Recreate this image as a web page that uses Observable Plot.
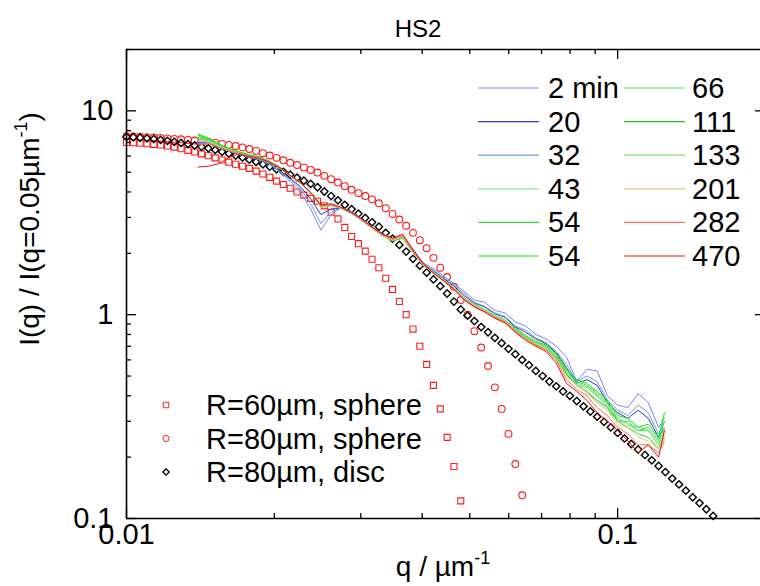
<!DOCTYPE html>
<html>
<head>
<meta charset="utf-8">
<script src="https://cdn.jsdelivr.net/npm/d3@7"></script>
<script src="https://cdn.jsdelivr.net/npm/@observablehq/plot@0.6"></script>
<style>
html, body { margin: 0; padding: 0; background: #fff; overflow: hidden; }
</style>
</head>
<body>
<div id="chart"></div>
<script>
// ---------- data ----------
const modelQ = [
  0.01, 0.010325, 0.010661, 0.011007, 0.011365, 0.011735, 0.012115, 0.012509, 0.012915, 0.013335,
  0.013768, 0.014216, 0.014678, 0.015155, 0.015647, 0.016156, 0.016681, 0.017223, 0.017783, 0.018361,
  0.018957, 0.019573, 0.02021, 0.020866, 0.021544, 0.022244, 0.022967, 0.023714, 0.024484, 0.02528,
  0.026102, 0.02695, 0.027826, 0.02873, 0.029663, 0.030628, 0.031623, 0.03265, 0.033711, 0.034807,
  0.035938, 0.037106, 0.038312, 0.039557, 0.040842, 0.04217, 0.04354, 0.044955, 0.046416, 0.047924,
  0.049482, 0.05109, 0.05275, 0.054464, 0.056234, 0.058062, 0.059948, 0.061897, 0.063908, 0.065984,
  0.068129, 0.070342, 0.072628, 0.074989, 0.077426, 0.079942, 0.08254, 0.085222, 0.087992, 0.090851,
  0.093804, 0.096852, 0.1, 0.10325, 0.10661, 0.11007, 0.11365, 0.11735, 0.12115, 0.12509,
  0.12915, 0.13335, 0.13768, 0.14216, 0.14678, 0.15155, 0.15647
];
const sphere60 = [
  7.0, 6.97, 6.94, 6.9, 6.85, 6.8, 6.72, 6.64, 6.52, 6.4,
  6.28, 6.15, 6.02, 5.88, 5.74, 5.6, 5.47, 5.35, 5.22, 5.06,
  4.9, 4.72, 4.52, 4.35, 4.17, 4.0, 3.86, 3.72, 3.6, 3.42,
  3.18, 2.95, 2.68, 2.42, 2.23, 2.05, 1.87, 1.7, 1.51, 1.33,
  1.16, 1.0, 0.85, 0.7, 0.57, 0.45, 0.345, 0.25, 0.18, 0.122
];
const sphere80 = [
  7.5, 7.48, 7.46, 7.43, 7.4, 7.37, 7.33, 7.29, 7.25, 7.2,
  7.15, 7.09, 7.03, 6.96, 6.89, 6.81, 6.72, 6.62, 6.5, 6.36,
  6.2, 6.04, 5.88, 5.72, 5.56, 5.42, 5.28, 5.13, 4.98, 4.8,
  4.62, 4.45, 4.27, 4.1, 3.95, 3.82, 3.68, 3.52, 3.33, 3.12,
  2.93, 2.73, 2.52, 2.32, 2.12, 1.9, 1.7, 1.53, 1.37, 1.18,
  1.0, 0.83, 0.69, 0.56, 0.44, 0.345, 0.26, 0.185, 0.13
];
const disc80 = [
  7.45, 7.42, 7.38, 7.33, 7.27, 7.2, 7.13, 7.05, 6.96, 6.87,
  6.77, 6.66, 6.55, 6.43, 6.3, 6.17, 6.04, 5.9, 5.76, 5.62,
  5.47, 5.32, 5.17, 5.02, 4.86, 4.7, 4.54, 4.38, 4.22, 4.02,
  3.82, 3.64, 3.46, 3.29, 3.13, 2.98, 2.84, 2.7, 2.52, 2.36,
  2.2, 2.04, 1.88, 1.74, 1.61, 1.49, 1.38, 1.27, 1.16, 1.06,
  0.99, 0.93, 0.87, 0.82, 0.77, 0.725, 0.68, 0.64, 0.6, 0.565,
  0.53, 0.5, 0.47, 0.445, 0.42, 0.4, 0.377, 0.355, 0.335, 0.316,
  0.298, 0.28, 0.263, 0.247, 0.232, 0.218, 0.205, 0.193, 0.181, 0.169,
  0.157, 0.147, 0.137, 0.127, 0.119, 0.111, 0.103
];
const modelNames = ["R=60µm, sphere", "R=80µm, sphere", "R=80µm, disc"];

const expQ = [
  0.01399, 0.014678, 0.015399, 0.016156, 0.01695, 0.017783, 0.018657, 0.019573, 0.020535, 0.021544,
  0.022603, 0.023714, 0.024879, 0.026102, 0.027384, 0.02873, 0.030142, 0.031623, 0.033177, 0.034807,
  0.036517, 0.038312, 0.040194, 0.04217, 0.044242, 0.046416, 0.048697, 0.05109, 0.0536, 0.056234,
  0.058997, 0.061897, 0.064938, 0.068129, 0.071477, 0.074989, 0.078674, 0.08254, 0.086596, 0.090851,
  0.095315, 0.1, 0.10491, 0.11007, 0.11548, 0.12115, 0.1245
];
const t2min = [6.9, 6.95, 6.6, 6.35, 6.1, 5.9, 5.75, 5.45, 5.0, 4.5,
  4.0, 3.3, 2.6, 3.1, 3.35, 3.2, 2.95, 2.7, 2.5, 2.35,
  2.42, 2.1, 1.8, 1.68, 1.55, 1.42, 1.3, 1.18, 1.15, 1.05,
  1.02, 0.92, 0.88, 0.8, 0.76, 0.7, 0.62, 0.47, 0.54, 0.53,
  0.4, 0.36, 0.35, 0.41, 0.37, 0.28, 0.31];
const t20 = [7.0, 7.0, 6.65, 6.4, 6.15, 5.95, 5.8, 5.5, 5.1, 4.65,
  4.25, 3.7, 3.1, 3.3, 3.33, 3.15, 2.92, 2.68, 2.47, 2.33,
  2.4, 2.05, 1.78, 1.64, 1.5, 1.38, 1.24, 1.14, 1.09, 1.01,
  0.97, 0.87, 0.82, 0.76, 0.72, 0.65, 0.55, 0.46, 0.48, 0.45,
  0.37, 0.33, 0.31, 0.34, 0.31, 0.25, 0.28];
const t32 = [7.05, 7.0, 6.7, 6.4, 6.15, 5.95, 5.8, 5.5, 5.05, 4.6,
  4.15, 3.5, 2.8, 3.2, 3.35, 3.17, 2.93, 2.68, 2.47, 2.33,
  2.41, 2.06, 1.77, 1.65, 1.52, 1.4, 1.27, 1.15, 1.1, 1.02,
  0.98, 0.88, 0.84, 0.77, 0.73, 0.66, 0.57, 0.47, 0.5, 0.47,
  0.38, 0.34, 0.32, 0.36, 0.33, 0.26, 0.3];
const t43 = [7.4, 7.15, 6.8, 6.5, 6.25, 6.05, 5.9, 5.65, 5.25, 4.8,
  4.45, 3.95, 3.35, 3.42, 3.33, 3.14, 2.9, 2.65, 2.44, 2.3,
  2.38, 2.0, 1.74, 1.6, 1.47, 1.34, 1.2, 1.1, 1.04, 0.97,
  0.92, 0.84, 0.78, 0.72, 0.68, 0.62, 0.52, 0.45, 0.44, 0.4,
  0.35, 0.31, 0.29, 0.28, 0.27, 0.23, 0.28];
const t54a = [7.6, 7.3, 6.85, 6.5, 6.25, 6.05, 5.9, 5.62, 5.25, 4.8,
  4.43, 3.96, 3.42, 3.45, 3.32, 3.13, 2.9, 2.66, 2.45, 2.3,
  2.37, 2.02, 1.75, 1.6, 1.47, 1.35, 1.2, 1.11, 1.05, 0.98,
  0.93, 0.85, 0.78, 0.73, 0.7, 0.63, 0.53, 0.47, 0.45, 0.41,
  0.37, 0.3, 0.3, 0.27, 0.28, 0.24, 0.3];
const t54b = [7.7, 7.35, 6.9, 6.55, 6.3, 6.1, 5.95, 5.65, 5.27, 4.82,
  4.45, 3.98, 3.45, 3.47, 3.34, 3.15, 2.92, 2.67, 2.46, 2.31,
  2.38, 2.03, 1.76, 1.62, 1.49, 1.36, 1.21, 1.12, 1.06, 0.99,
  0.94, 0.86, 0.79, 0.74, 0.71, 0.64, 0.54, 0.48, 0.46, 0.42,
  0.38, 0.32, 0.31, 0.28, 0.29, 0.25, 0.33];
const t66 = [7.5, 7.25, 6.8, 6.48, 6.22, 6.02, 5.88, 5.6, 5.22, 4.78,
  4.4, 3.94, 3.4, 3.44, 3.33, 3.14, 2.91, 2.66, 2.45, 2.31,
  2.39, 2.02, 1.75, 1.61, 1.48, 1.35, 1.2, 1.11, 1.05, 0.98,
  0.93, 0.84, 0.78, 0.72, 0.69, 0.62, 0.52, 0.46, 0.44, 0.4,
  0.36, 0.31, 0.29, 0.27, 0.27, 0.23, 0.27];
const t111 = [7.3, 7.1, 6.75, 6.43, 6.2, 6.0, 5.87, 5.6, 5.23, 4.78,
  4.42, 3.94, 3.4, 3.43, 3.32, 3.14, 2.9, 2.66, 2.45, 2.32,
  2.4, 2.02, 1.75, 1.61, 1.48, 1.35, 1.2, 1.1, 1.04, 0.97,
  0.92, 0.83, 0.77, 0.71, 0.68, 0.61, 0.51, 0.45, 0.42, 0.38,
  0.35, 0.3, 0.28, 0.26, 0.25, 0.22, 0.25];
const t133 = [7.35, 7.1, 6.75, 6.45, 6.2, 6.0, 5.87, 5.6, 5.22, 4.77,
  4.41, 3.93, 3.4, 3.43, 3.33, 3.15, 2.91, 2.66, 2.45, 2.32,
  2.4, 2.02, 1.75, 1.61, 1.48, 1.35, 1.2, 1.11, 1.05, 0.98,
  0.93, 0.84, 0.77, 0.72, 0.68, 0.61, 0.5, 0.45, 0.42, 0.37,
  0.34, 0.3, 0.28, 0.26, 0.25, 0.22, 0.26];
const t201 = [7.2, 7.05, 6.72, 6.42, 6.2, 5.99, 5.86, 5.6, 5.23, 4.78,
  4.42, 3.94, 3.4, 3.44, 3.33, 3.15, 2.91, 2.66, 2.45, 2.32,
  2.4, 2.02, 1.75, 1.61, 1.48, 1.35, 1.2, 1.11, 1.05, 0.98,
  0.93, 0.84, 0.77, 0.72, 0.68, 0.61, 0.5, 0.45, 0.41, 0.37,
  0.34, 0.29, 0.28, 0.25, 0.24, 0.22, 0.25];
const t282 = [6.8, 6.9, 6.65, 6.38, 6.18, 5.98, 5.85, 5.6, 5.25, 4.8,
  4.45, 3.96, 3.42, 3.46, 3.34, 3.16, 2.93, 2.68, 2.47, 2.35,
  2.45, 2.05, 1.76, 1.6, 1.47, 1.34, 1.19, 1.1, 1.04, 0.97,
  0.92, 0.83, 0.76, 0.71, 0.67, 0.6, 0.48, 0.43, 0.4, 0.35,
  0.32, 0.28, 0.26, 0.23, 0.23, 0.21, 0.24];
const t470 = [5.3, 5.35, 5.5, 5.9, 6.15, 5.97, 5.85, 5.6, 5.26, 4.82,
  4.46, 3.98, 3.45, 3.5, 3.36, 3.17, 2.94, 2.69, 2.48, 2.38,
  2.48, 2.08, 1.78, 1.6, 1.46, 1.33, 1.18, 1.09, 1.03, 0.96,
  0.91, 0.82, 0.75, 0.7, 0.66, 0.58, 0.46, 0.42, 0.38, 0.33,
  0.3, 0.27, 0.24, 0.21, 0.23, 0.2, 0.27];
const seriesNames = ["2 min", "20", "32", "43", "54", "54", "66", "111", "133", "201", "282", "470"];

const xMajorTicks = [0.01, 0.1];
const xMinorTicks = [0.02, 0.03, 0.04, 0.05, 0.06, 0.07, 0.08, 0.09];
const yMajorTicks = [0.1, 1, 10];
const yMinorTicks = [0.2, 0.3, 0.4, 0.5, 0.6, 0.7, 0.8, 0.9, 2, 3, 4, 5, 6, 7, 8, 9, 20];
const xTickLabels = ["0.01", "0.1"];
const yTickLabels = ["0.1", "1", "10"];

// ---------- styles ----------
const seriesColors = ["#7a84ee", "#3535c6", "#6c9de0", "#84e39c", "#2edb2e", "#00ec00",
                      "#4eee4e", "#22bf22", "#90dc6c", "#dbcb7a", "#ff6b5d", "#ee1010"];
const FONT = "'Liberation Sans', Arial, Helvetica, sans-serif";
const TICK_FS = 29, LEG_FS = 29, LAB_FS = 28;

// ---------- build ----------
const expSeries = [t2min, t20, t32, t43, t54a, t54b, t66, t111, t133, t201, t282, t470];
const expRows = expSeries.flatMap((vals, si) => vals.map((v, j) => ({q: expQ[j], v, si})));
const modelRows = (vals) => vals.map((v, i) => ({q: modelQ[i], v}));

const W = 760, H = 586, mL = 126, mR = 0, mT = 49, mB = 68;
const innerW = W - mL - mR, innerH = H - mT - mB;

const svg = Plot.plot({
  width: W, height: H,
  marginLeft: mL, marginRight: mR, marginTop: mT, marginBottom: mB,
  x: {type: "log", domain: [0.01, 0.2], range: [mL, mL + 639], axis: null},
  y: {type: "log", domain: [0.1, 20], axis: null},
  color: {type: "identity"},
  style: {fontFamily: FONT, background: "white", overflow: "hidden", maxWidth: "none"},
  marks: [
    Plot.dot(modelRows(sphere60), {x: "q", y: "v", symbol: "square", r: 3.4, stroke: "#ff1a1a", fill: "none", strokeWidth: 1.1}),
    Plot.dot(modelRows(sphere80), {x: "q", y: "v", symbol: "circle", r: 3.4, stroke: "#ff1a1a", fill: "none", strokeWidth: 1.1}),
    Plot.dot(modelRows(disc80), {x: "q", y: "v", symbol: "diamond2", r: 3.3, stroke: "black", fill: "none", strokeWidth: 1.4}),
    Plot.line(expRows, {x: "q", y: "v", z: "si", stroke: d => seriesColors[d.si], strokeWidth: 1}),
    // frame (left, top, bottom)
    Plot.ruleX([0.01], {stroke: "black", strokeWidth: 1.6}),
    Plot.ruleY([0.1, 20], {stroke: "black", strokeWidth: 1.6}),
    // inward ticks
    Plot.tickX(xMajorTicks, {x: d => d, insetTop: innerH - 10, stroke: "black", strokeWidth: 1.3}),
    Plot.tickX(xMinorTicks, {x: d => d, insetTop: innerH - 5, stroke: "black", strokeWidth: 1.3}),
    Plot.tickX(xMajorTicks, {x: d => d, insetBottom: innerH - 10, stroke: "black", strokeWidth: 1.3}),
    Plot.tickX(xMinorTicks, {x: d => d, insetBottom: innerH - 5, stroke: "black", strokeWidth: 1.3}),
    Plot.tickY(yMajorTicks, {y: d => d, insetRight: innerW - 10, stroke: "black", strokeWidth: 1.3}),
    Plot.tickY(yMinorTicks, {y: d => d, insetRight: innerW - 5, stroke: "black", strokeWidth: 1.3}),
    Plot.tickY(yMajorTicks, {y: d => d, insetLeft: innerW - 5, stroke: "black", strokeWidth: 1.3}),
    // tick labels
    Plot.text(xMajorTicks, {x: d => d, frameAnchor: "bottom", dy: 25, text: (d, i) => xTickLabels[i], fontSize: TICK_FS, fill: "black"}),
    Plot.text(yMajorTicks, {y: d => d, frameAnchor: "left", dx: -13, textAnchor: "end", text: (d, i) => yTickLabels[i], fontSize: TICK_FS, fill: "black"})
  ]
});

const root = d3.select(svg);

// title
root.append("text").attr("x", 418).attr("y", 37).attr("text-anchor", "middle")
  .attr("font-family", FONT).attr("font-size", 24).attr("fill", "black").text("HS2");

// x axis label
const xl = root.append("text").attr("x", 443).attr("y", 576).attr("text-anchor", "middle")
  .attr("font-family", FONT).attr("font-size", LAB_FS).attr("fill", "black");
xl.append("tspan").text("q / µm");
xl.append("tspan").attr("dy", -12).attr("font-size", 18).text("-1");

// y axis label
const yl = root.append("text").attr("transform", "translate(39,229) rotate(-90)")
  .attr("text-anchor", "middle").attr("font-family", FONT).attr("font-size", LAB_FS).attr("fill", "black");
yl.append("tspan").text("I(q) / I(q=0.05µm");
yl.append("tspan").attr("dy", -12).attr("font-size", 18).text("-1");
yl.append("tspan").attr("dy", 12).text(")");

// series legend (two columns)
const lg = root.append("g").attr("font-family", FONT).attr("font-size", LEG_FS)
  .attr("fill", "black").attr("text-anchor", "start");
seriesNames.forEach((name, i) => {
  const col = i < 6 ? 0 : 1, row = i % 6;
  const y = 88 + row * 33.6;
  const x1 = col ? 624 : 478, x2 = col ? 685 : 539, tx = col ? 692 : 548;
  lg.append("line").attr("x1", x1).attr("x2", x2).attr("y1", y).attr("y2", y)
    .attr("stroke", seriesColors[i]).attr("stroke-width", 1.2);
  lg.append("text").attr("x", tx).attr("y", y + 10).text(name);
});

// model legend
const symbols = [d3.symbolSquare, d3.symbolCircle, d3.symbolDiamond2];
const symSizes = [30, 30, 26];
const symStroke = ["#ff1a1a", "#ff1a1a", "black"];
modelNames.forEach((name, i) => {
  const y = 405 + i * 33.5;
  lg.append("path").attr("d", d3.symbol(symbols[i], symSizes[i])())
    .attr("transform", `translate(166,${y})`).attr("fill", "none")
    .attr("stroke", symStroke[i]).attr("stroke-width", i === 2 ? 1.3 : 1);
  lg.append("text").attr("x", 206).attr("y", y + 10).text(name);
});

document.getElementById("chart").appendChild(svg);
</script>
</body>
</html>
